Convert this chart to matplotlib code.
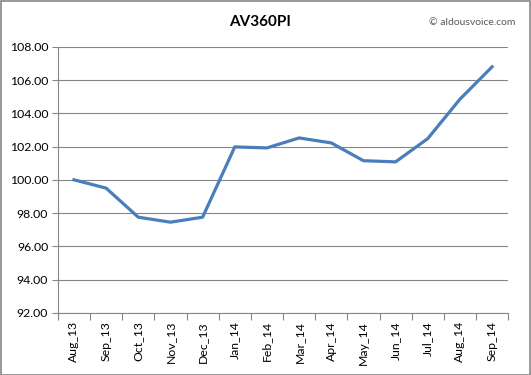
import numpy as np
import matplotlib
matplotlib.use("Agg")
import matplotlib.pyplot as plt
from matplotlib.patches import Rectangle

months = ["Aug_13", "Sep_13", "Oct_13", "Nov_13", "Dec_13", "Jan_14", "Feb_14",
          "Mar_14", "Apr_14", "May_14", "Jun_14", "Jul_14", "Aug_14", "Sep_14"]
index_vals = [100.00, 99.50, 97.75, 97.45, 97.75, 101.98, 101.92,
              102.52, 102.22, 101.15, 101.08, 102.48, 104.85, 106.80]
y_ticks = [92, 94, 96, 98, 100, 102, 104, 106, 108]

plt.rcParams['font.family'] = ['Lato', 'DejaVu Sans']

fig = plt.figure(figsize=(5.31, 3.75), dpi=100)
ax = fig.add_axes([0.109, 0.166, 0.848, 0.709])

x = np.arange(len(months))
ax.plot(x, index_vals, color='#4a7ebb', lw=2.3, solid_joinstyle='round')

ax.set_xlim(-0.5, len(months) - 0.5)
ax.set_ylim(92, 108)
ax.set_yticks(y_ticks)
ax.set_yticklabels([f"{v:.2f}" for v in y_ticks], fontsize=8.8)
ax.yaxis.grid(True, color='#868686', lw=0.8)
ax.set_axisbelow(True)

# category labels between boundary ticks, like Excel
ax.set_xticks(np.arange(len(months) + 1) - 0.5)
ax.set_xticklabels([])
ax.set_xticks(x, minor=True)
ax.set_xticklabels(months, minor=True, rotation=90, fontsize=8.8)
ax.tick_params(axis='x', which='minor', length=0, pad=6)
ax.tick_params(axis='x', which='major', length=5, color='#868686')
ax.tick_params(axis='y', length=4, color='#868686', pad=3)

for s in ['top', 'right']:
    ax.spines[s].set_visible(False)
for s in ['left', 'bottom']:
    ax.spines[s].set_color('#868686')
    ax.spines[s].set_linewidth(0.8)

fig.text(0.49, 0.94, "AV360PI", ha='center', va='center', fontsize=11, fontweight='bold')
fig.text(0.97, 0.94, "\u00a9 aldousvoice.com", ha='right', va='center', fontsize=7.5, color='#595959')

fig.patches.append(Rectangle((0.001, 0.001), 0.997, 0.996, transform=fig.transFigure,
                             fill=False, edgecolor='#868686', lw=1.2))

fig.savefig("out.png", dpi=100)
